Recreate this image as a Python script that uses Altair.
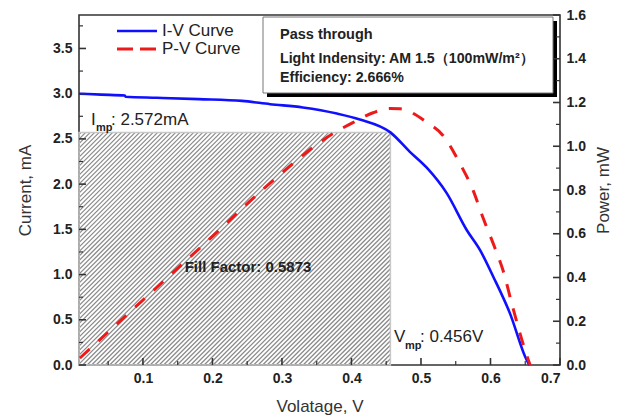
import altair as alt
import pandas as pd
import numpy as np

# ---------------- data ----------------
iv_voltage = [0.008, 0.04, 0.074, 0.075, 0.12, 0.18, 0.2425, 0.283, 0.33, 0.379, 0.412,
              0.456, 0.484, 0.508, 0.537, 0.566, 0.585, 0.604, 0.628, 0.652, 0.656]
iv_current = [3.00, 2.99, 2.98, 2.966, 2.955, 2.94, 2.92, 2.884, 2.848, 2.781, 2.715,
              2.572, 2.357, 2.184, 1.90, 1.49, 1.27, 0.976, 0.571, 0.055, 0.0]

pv_voltage = [0.0094, 0.1, 0.2, 0.287, 0.373, 0.402, 0.431, 0.456, 0.47, 0.509, 0.532,
              0.556, 0.575, 0.589, 0.606, 0.618, 0.632, 0.653, 0.657]
pv_power = [0.032, 0.297, 0.588, 0.843, 1.057, 1.108, 1.153, 1.173, 1.171, 1.108, 1.048,
            0.921, 0.798, 0.675, 0.538, 0.433, 0.264, 0.036, 0.0]

v_mp = 0.456
i_mp = 2.572
fill_factor = "0.5873"
efficiency = "2.666%"

x_ticks = [0.1, 0.2, 0.3, 0.4, 0.5, 0.6, 0.7]
x_minor = [0.05, 0.15, 0.25, 0.35, 0.45, 0.55, 0.65]
yl_ticks = [0.0, 0.5, 1.0, 1.5, 2.0, 2.5, 3.0, 3.5]
yl_minor = [0.25, 0.75, 1.25, 1.75, 2.25, 2.75, 3.25, 3.75]
yr_ticks = [0.0, 0.2, 0.4, 0.6, 0.8, 1.0, 1.2, 1.4, 1.6]
yr_minor = [0.1, 0.3, 0.5, 0.7, 0.9, 1.1, 1.3, 1.5]

# ---------------- layout ----------------
W, H = 481, 350
X_DOM = [0.008, 0.7]
YL_DOM = [0.0, 3.87]
YR_DOM = [0.0, 1.6]
FONT = "Liberation Sans"
BLUE = "#1010ff"
RED = "#ee1a1a"
X_TITLE = "Volatage, V"
YL_TITLE = "Current, mA"
YR_TITLE = "Power, mW"

xs = alt.Scale(domain=X_DOM, nice=False, zero=False)
yls = alt.Scale(domain=YL_DOM, nice=False)
yrs = alt.Scale(domain=YR_DOM, nice=False)

XAX = alt.Axis(values=x_ticks, format=".1f", labelPadding=6, titlePadding=13, title=X_TITLE)
YLAX = alt.Axis(values=yl_ticks, format=".1f", labelPadding=7, titlePadding=18, title=YL_TITLE)
YRAX = alt.Axis(orient="right", values=yr_ticks, format=".1f", labelPadding=6,
                titlePadding=10, titleAngle=270, titleBaseline="top", title=YR_TITLE)

def X(f):
    return alt.X(f, scale=xs, axis=XAX, title=X_TITLE)

def YL(f):
    return alt.Y(f, scale=yls, axis=YLAX, title=YL_TITLE)

def YR(f):
    return alt.Y(f, scale=yrs, axis=YRAX, title=YR_TITLE)

iv_df = pd.DataFrame({"v": iv_voltage, "i": iv_current})
pv_df = pd.DataFrame({"v": pv_voltage, "p": pv_power})

# hatch lines for the fill-factor rectangle (45 degree in screen space)
px_v = W / (X_DOM[1] - X_DOM[0])
px_i = H / (YL_DOM[1] - YL_DOM[0])
rw = (v_mp - X_DOM[0]) * px_v
rh = i_mp * px_i
step = 4.5
rows = []
for c in np.arange(-rh + step / 2, rw, step):
    xa = max(0.0, c)
    xb = min(rw, rh + c)
    rows.append({"v1": X_DOM[0] + xa / px_v, "i1": (xa - c) / px_i,
                 "v2": X_DOM[0] + xb / px_v, "i2": (xb - c) / px_i})
hatch_df = pd.DataFrame(rows)

one = pd.DataFrame({"a": [0]})

hatch = alt.Chart(hatch_df).mark_rule(color="#8a8a8a", strokeWidth=1.3).encode(
    x=X("v1:Q"), x2="v2:Q", y=YL("i1:Q"), y2="i2:Q")

rect_df = pd.DataFrame({"v0": [X_DOM[0]], "v1": [v_mp], "i0": [0.0], "i1": [i_mp]})
rect = alt.Chart(rect_df).mark_rect(fill=None, stroke="#c8c8c8", strokeWidth=1.5).encode(
    x=X("v0:Q"), x2="v1:Q", y=YL("i0:Q"), y2="i1:Q")

iv_line = alt.Chart(iv_df).mark_line(color=BLUE, strokeWidth=2.6, interpolate="monotone").encode(
    x=X("v:Q"), y=YL("i:Q"))

def rules_yl(vals, x0, x1, width):
    return alt.Chart(pd.DataFrame({"t": vals})).mark_rule(color="#333", strokeWidth=width).encode(
        y=YL("t:Q"), x=alt.value(x0), x2=alt.value(x1))

def rules_yr(vals, x0, x1, width):
    return alt.Chart(pd.DataFrame({"t": vals})).mark_rule(color="#333", strokeWidth=width).encode(
        y=YR("t:Q"), x=alt.value(x0), x2=alt.value(x1))

def rules_x(vals, length, width):
    return alt.Chart(pd.DataFrame({"t": vals})).mark_rule(color="#333", strokeWidth=width).encode(
        x=X("t:Q"), y=alt.value(H), y2=alt.value(H - length))

def txt(text, x, y, size, weight="normal", align="left", color="#222"):
    return alt.Chart(one).mark_text(text=text, font=FONT, fontSize=size, fontWeight=weight,
                                    align=align, baseline="middle", color=color).encode(
        x=alt.value(x), y=alt.value(y))

# legend
leg_blue = alt.Chart(one).mark_rule(color=BLUE, strokeWidth=2.6).encode(
    x=alt.value(38), x2=alt.value(78), y=alt.value(16))
leg_red = alt.Chart(one).mark_rule(color=RED, strokeWidth=3, strokeDash=[16, 7]).encode(
    x=alt.value(38), x2=alt.value(78), y=alt.value(34))

# info box with shadow
shadow = alt.Chart(one).mark_rect(color="black").encode(
    x=alt.value(188), x2=alt.value(478), y=alt.value(6), y2=alt.value(82))
box = alt.Chart(one).mark_rect(fill="white", stroke="#777", strokeWidth=1).encode(
    x=alt.value(184), x2=alt.value(474), y=alt.value(2), y2=alt.value(78))

left = alt.layer(
    hatch, rect, iv_line,
    rules_yl(yl_ticks, 0, 7, 1.6), rules_yl(yl_minor, 0, 4, 1.2),
    rules_x(x_ticks, 7, 1.6), rules_x(x_minor, 4, 1.2),
    leg_blue, leg_red,
    txt("I-V Curve", 83, 16, 17), txt("P-V Curve", 83, 34, 17),
    shadow, box,
    txt("Pass through", 201, 20, 14.5, "bold"),
    txt("Light Indensity: AM 1.5（100mW/m²）", 201, 44, 14.2, "bold"),
    txt("Efficiency: " + efficiency, 201, 63, 14.2, "bold"),
    txt("I", 12, 105, 17), txt("mp", 17, 113, 11, "bold"), txt(": %.3fmA" % i_mp, 32, 105, 17),
    txt("V", 315, 322, 17), txt("mp", 326, 331, 11, "bold"), txt(": %.3fV" % v_mp, 341, 322, 17),
    txt("Fill Factor: " + fill_factor, 169, 252, 15, "bold", "center"),
)

pv_line = alt.Chart(pv_df).mark_line(color=RED, strokeWidth=3, strokeDash=[13, 12],
                                     interpolate="monotone").encode(
    x=X("v:Q"), y=YR("p:Q"))

right = alt.layer(
    pv_line,
    rules_yr(yr_ticks, W - 7, W, 1.6), rules_yr(yr_minor, W - 4, W, 1.2),
)

chart = alt.layer(left, right).resolve_scale(y="independent").properties(
    width=W, height=H,
    autosize=alt.AutoSizeParams(type="none"),
    padding={"left": 71, "top": 7, "right": 52, "bottom": 51},
).configure_view(stroke="#333", strokeWidth=1.6).configure_axis(
    grid=False, ticks=False, domain=False,
    labelFont=FONT, labelFontSize=14, labelFontWeight="bold", labelColor="#222",
    titleFont=FONT, titleFontSize=17, titleFontWeight="normal", titleColor="#333",
)

chart.save("out.html", embed_options={"renderer": "svg", "actions": False})
